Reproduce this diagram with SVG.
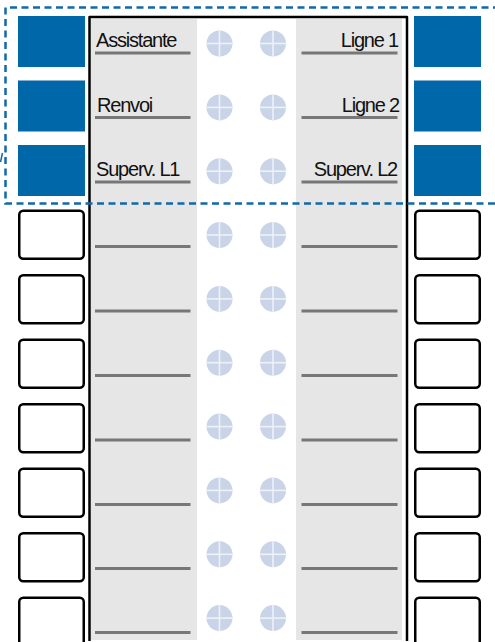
<svg xmlns="http://www.w3.org/2000/svg" width="495" height="642" viewBox="0 0 495 642">
<style>
.panel{fill:#e6e6e6}
.frame{fill:none;stroke:#000;stroke-width:2.5;stroke-linejoin:round}
.key{fill:#0068a9}
.empty{fill:#fff;stroke:#000;stroke-width:2.5}
.ul{stroke:#777;stroke-width:3}
.led{fill:#c9d4e8}
.cross{stroke:#eef2f8;stroke-width:1.6}
.lbl{font-family:"Liberation Sans",Arial,sans-serif;font-size:20px;letter-spacing:-1.2px;fill:#111}
.sel{fill:none;stroke:#1268aa;stroke-width:2.5;stroke-dasharray:7 4.5}
</style>
<defs>
<g id="ledshape">
<circle class="led" cx="0" cy="0" r="13"/>
<line class="cross" x1="-13" y1="0" x2="13" y2="0"/>
<line class="cross" x1="0" y1="-13" x2="0" y2="13"/>
</g>
</defs>
<rect width="495" height="642" fill="#fff"/>
<g id="panels">
<rect class="panel" x="91" y="19" width="106" height="621"/>
<rect class="panel" x="296" y="19" width="106" height="621"/>
<path class="frame" d="M89.5,641 V17 H407 V641"/>
</g>
<g id="keys-left">
<rect class="key" x="18" y="16" width="67" height="51"/>
<rect class="key" x="18" y="80.5" width="67" height="51"/>
<rect class="key" x="18" y="145" width="67" height="51"/>
<rect class="empty" x="19.25" y="210.75" width="64.5" height="48" rx="4"/>
<rect class="empty" x="19.25" y="275.25" width="64.5" height="48" rx="4"/>
<rect class="empty" x="19.25" y="339.75" width="64.5" height="48" rx="4"/>
<rect class="empty" x="19.25" y="404.25" width="64.5" height="48" rx="4"/>
<rect class="empty" x="19.25" y="468.75" width="64.5" height="48" rx="4"/>
<rect class="empty" x="19.25" y="533.25" width="64.5" height="48" rx="4"/>
<rect class="empty" x="19.25" y="597.75" width="64.5" height="48" rx="4"/>
</g>
<g id="keys-right">
<rect class="key" x="414" y="16" width="67" height="51"/>
<rect class="key" x="414" y="80.5" width="67" height="51"/>
<rect class="key" x="414" y="145" width="67" height="51"/>
<rect class="empty" x="415.25" y="210.75" width="64.5" height="48" rx="4"/>
<rect class="empty" x="415.25" y="275.25" width="64.5" height="48" rx="4"/>
<rect class="empty" x="415.25" y="339.75" width="64.5" height="48" rx="4"/>
<rect class="empty" x="415.25" y="404.25" width="64.5" height="48" rx="4"/>
<rect class="empty" x="415.25" y="468.75" width="64.5" height="48" rx="4"/>
<rect class="empty" x="415.25" y="533.25" width="64.5" height="48" rx="4"/>
<rect class="empty" x="415.25" y="597.75" width="64.5" height="48" rx="4"/>
</g>
<g id="underlines">
<line class="ul" x1="95" y1="53" x2="190.5" y2="53"/>
<line class="ul" x1="95" y1="117.5" x2="190.5" y2="117.5"/>
<line class="ul" x1="95" y1="182" x2="190.5" y2="182"/>
<line class="ul" x1="95" y1="246.5" x2="190.5" y2="246.5"/>
<line class="ul" x1="95" y1="311" x2="190.5" y2="311"/>
<line class="ul" x1="95" y1="375.5" x2="190.5" y2="375.5"/>
<line class="ul" x1="95" y1="440" x2="190.5" y2="440"/>
<line class="ul" x1="95" y1="504.5" x2="190.5" y2="504.5"/>
<line class="ul" x1="95" y1="568.5" x2="190.5" y2="568.5"/>
<line class="ul" x1="95" y1="632.5" x2="190.5" y2="632.5"/>
<line class="ul" x1="301.5" y1="53" x2="397.5" y2="53"/>
<line class="ul" x1="301.5" y1="117.5" x2="397.5" y2="117.5"/>
<line class="ul" x1="301.5" y1="182" x2="397.5" y2="182"/>
<line class="ul" x1="301.5" y1="246.5" x2="397.5" y2="246.5"/>
<line class="ul" x1="301.5" y1="311" x2="397.5" y2="311"/>
<line class="ul" x1="301.5" y1="375.5" x2="397.5" y2="375.5"/>
<line class="ul" x1="301.5" y1="440" x2="397.5" y2="440"/>
<line class="ul" x1="301.5" y1="504.5" x2="397.5" y2="504.5"/>
<line class="ul" x1="301.5" y1="568.5" x2="397.5" y2="568.5"/>
<line class="ul" x1="301.5" y1="632.5" x2="397.5" y2="632.5"/>
</g>
<g id="leds">
<use href="#ledshape" x="219.5" y="43.5"/><use href="#ledshape" x="273" y="43.5"/>
<use href="#ledshape" x="219.5" y="107.4"/><use href="#ledshape" x="273" y="107.4"/>
<use href="#ledshape" x="219.5" y="171.2"/><use href="#ledshape" x="273" y="171.2"/>
<use href="#ledshape" x="219.5" y="235"/><use href="#ledshape" x="273" y="235"/>
<use href="#ledshape" x="219.5" y="298.9"/><use href="#ledshape" x="273" y="298.9"/>
<use href="#ledshape" x="219.5" y="362.7"/><use href="#ledshape" x="273" y="362.7"/>
<use href="#ledshape" x="219.5" y="426.6"/><use href="#ledshape" x="273" y="426.6"/>
<use href="#ledshape" x="219.5" y="490.4"/><use href="#ledshape" x="273" y="490.4"/>
<use href="#ledshape" x="219.5" y="554.3"/><use href="#ledshape" x="273" y="554.3"/>
<use href="#ledshape" x="219.5" y="618.1"/><use href="#ledshape" x="273" y="618.1"/>
</g>
<g id="labels">
<text class="lbl" x="96" y="47.3">Assistante</text>
<text class="lbl" x="97" y="111.8">Renvoi</text>
<text class="lbl" x="96" y="176.3">Superv. L1</text>
<text class="lbl" x="398" y="47.3" text-anchor="end">Ligne 1</text>
<text class="lbl" x="399" y="111.8" text-anchor="end">Ligne 2</text>
<text class="lbl" x="397" y="176.3" text-anchor="end">Superv. L2</text>
</g>
<g id="selection">
<path class="sel" d="M500,7.5 H5.5 V203.5 H500"/>
<line x1="0.5" y1="162" x2="2.5" y2="153" stroke="#1268aa" stroke-width="1.5"/>
</g>
</svg>
